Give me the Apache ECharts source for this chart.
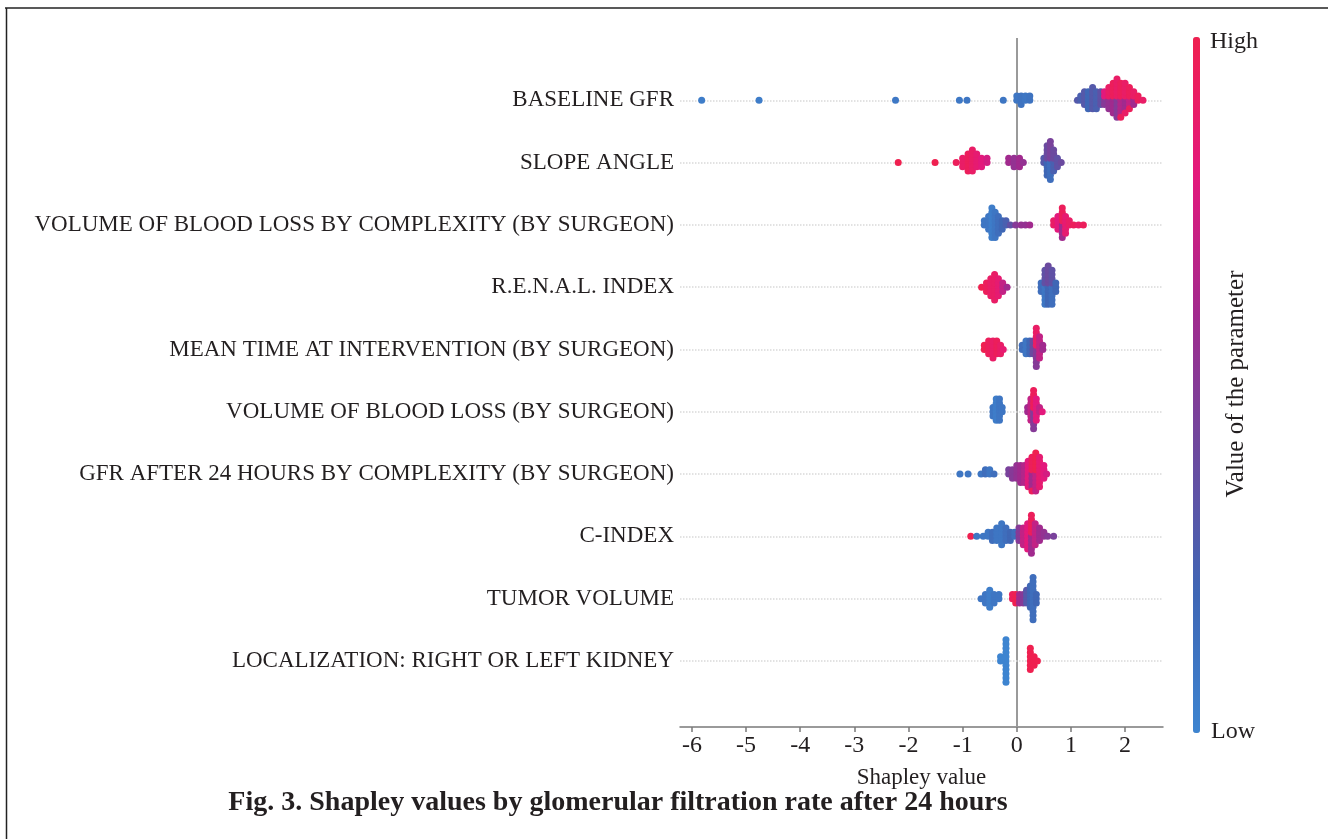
<!DOCTYPE html>
<html><head><meta charset="utf-8">
<script src="https://cdn.jsdelivr.net/npm/echarts@6/dist/echarts.min.js"></script>
<style>html,body{margin:0;padding:0;background:#fff}#c{width:1328px;height:839px}</style>
</head><body><div id="c"></div>
<script>
// Feature names (top to bottom)
const features = [
  'BASELINE GFR',
  'SLOPE ANGLE',
  'VOLUME OF BLOOD LOSS BY COMPLEXITY (BY SURGEON)',
  'R.E.N.A.L. INDEX',
  'MEAN TIME AT INTERVENTION (BY SURGEON)',
  'VOLUME OF BLOOD LOSS (BY SURGEON)',
  'GFR AFTER 24 HOURS BY COMPLEXITY (BY SURGEON)',
  'C-INDEX',
  'TUMOR VOLUME',
  'LOCALIZATION: RIGHT OR LEFT KIDNEY'
];
const xTicks = [-6, -5, -4, -3, -2, -1, 0, 1, 2];

// Each entry: [Shapley value, feature value (0 = low, 1 = high), number of points]
const baselineGfr = [
  [-5.82,0.05,1],[-4.76,0.05,1],[-2.24,0.08,1],[-1.06,0.08,1],[-0.92,0.1,1],[-0.25,0.1,1],
  [0.0,0.1,2],[0.08,0.12,3],[0.16,0.1,2],[0.24,0.12,2],
  [1.12,0.3,1],[1.18,0.25,2],[1.25,0.3,4],[1.32,0.2,5],[1.4,0.3,6],[1.47,0.25,5],[1.55,0.35,4],
  [1.62,0.5,2],[1.62,0.8,2],[1.7,0.55,3],[1.7,0.9,3],[1.78,0.6,4],[1.78,0.95,4],
  [1.85,0.5,5],[1.85,0.9,5],[1.92,0.65,4],[1.92,0.95,5],[2.0,0.6,3],[2.0,0.9,5],
  [2.08,0.7,2],[2.08,0.95,4],[2.16,0.6,2],[2.16,0.9,2],[2.24,0.95,2],[2.33,0.9,1]
];
const slopeAngle = [
  [-2.19,1,1],[-1.51,1,1],[-1.12,0.95,1],[-1.0,0.9,3],[-0.9,0.95,5],[-0.82,0.9,6],
  [-0.74,0.85,4],[-0.65,0.8,3],[-0.55,0.75,2],
  [-0.15,0.6,2],[-0.05,0.55,3],[0.05,0.6,3],[0.12,0.55,1],
  [0.5,0.3,2],[0.56,0.2,4],[0.56,0.4,4],[0.62,0.15,5],[0.62,0.45,5],[0.68,0.25,3],[0.68,0.4,3],
  [0.75,0.35,3],[0.82,0.4,1]
];
const bloodLossComplexity = [
  [-0.6,0.1,2],[-0.52,0.1,4],[-0.46,0.05,8],[-0.4,0.1,7],[-0.34,0.15,5],[-0.27,0.2,3],
  [-0.2,0.25,2],[-0.12,0.35,1],[-0.02,0.5,1],[0.08,0.55,1],[0.16,0.55,1],[0.24,0.6,1],
  [0.68,0.9,2],[0.76,0.8,4],[0.84,0.6,4],[0.84,0.95,4],[0.9,0.85,5],[0.97,0.9,2],
  [1.05,0.95,1],[1.14,0.9,1],[1.23,0.95,1]
];
const renalIndex = [
  [-0.65,1,1],[-0.56,0.95,3],[-0.48,0.9,5],[-0.41,0.9,7],[-0.34,0.85,5],[-0.26,0.7,3],[-0.18,0.6,1],
  [0.45,0.15,3],[0.52,0.1,5],[0.52,0.35,4],[0.58,0.2,5],[0.58,0.4,5],[0.65,0.15,5],[0.65,0.35,4],[0.72,0.2,3]
];
const meanTime = [
  [-0.6,1,2],[-0.52,0.95,4],[-0.44,0.9,5],[-0.37,0.95,4],[-0.3,0.9,3],[-0.25,0.85,1],
  [0.1,0.15,2],[0.17,0.1,4],[0.24,0.2,4],[0.3,0.4,4],[0.36,0.5,5],[0.36,0.9,5],[0.42,0.7,6],[0.48,0.6,2]
];
const bloodLoss = [
  [-0.44,0.1,3],[-0.38,0.05,6],[-0.32,0.1,6],[-0.27,0.1,2],
  [0.2,0.6,2],[0.26,0.7,6],[0.31,0.5,5],[0.31,0.95,5],[0.36,0.8,6],[0.42,0.7,2],[0.47,0.8,1]
];
const gfrAfter24 = [
  [-1.05,0.1,1],[-0.9,0.1,1],[-0.66,0.1,1],[-0.58,0.15,2],[-0.5,0.1,2],[-0.42,0.15,1],
  [-0.15,0.45,2],[-0.08,0.5,3],[0.0,0.55,4],[0.07,0.6,5],[0.14,0.65,5],[0.21,0.8,7],
  [0.28,0.6,4],[0.28,0.95,5],[0.35,0.7,5],[0.35,1,5],[0.42,0.85,8],[0.5,0.8,4],[0.55,0.75,1]
];
const cIndex = [
  [-0.85,1,1],[-0.74,0.1,1],[-0.62,0.1,1],[-0.53,0.1,2],[-0.45,0.15,3],[-0.37,0.1,4],
  [-0.28,0.1,6],[-0.2,0.15,4],[-0.12,0.2,3],[-0.04,0.15,2],
  [0.04,0.5,4],[0.12,0.7,5],[0.2,0.8,7],[0.27,0.6,5],[0.27,0.95,5],[0.34,0.7,6],
  [0.42,0.6,4],[0.5,0.55,2],[0.57,0.5,1],[0.68,0.45,1]
];
const tumorVolume = [
  [-0.66,0.1,1],[-0.58,0.1,3],[-0.5,0.05,5],[-0.42,0.1,3],[-0.33,0.1,2],
  [-0.08,0.95,2],[-0.02,1,3],[0.05,0.6,3],[0.12,0.5,3],[0.18,0.3,4],[0.25,0.2,6],[0.3,0.15,11],[0.36,0.2,3]
];
const localization = [
  [-0.3,0.0,2],[-0.2,0.0,11],[0.25,1,6],[0.32,1,3],[0.38,1,1]
];
const rows = [baselineGfr, slopeAngle, bloodLossComplexity, renalIndex, meanTime,
              bloodLoss, gfrAfter24, cIndex, tumorVolume, localization];

// Beeswarm layout: stack points sharing an x position around the row centre
const DY = 0.068;
const points = [];
rows.forEach((row, r) => {
  const groups = new Map();
  row.forEach(([x, v, n]) => {
    const k = x.toFixed(3);
    if (!groups.has(k)) groups.set(k, []);
    groups.get(k).push([v, n]);
  });
  groups.forEach((list, k) => {
    const x = +k;
    const rem = list.map(e => e[1]);
    const seq = [];
    while (rem.some(c => c > 0)) {
      list.forEach((e, i) => { if (rem[i] > 0) { seq.push(e[0]); rem[i]--; } });
    }
    seq.forEach((v, i) => {
      const lvl = Math.ceil(i / 2);
      const sgn = i % 2 === 1 ? -1 : 1;
      points.push([x, r + sgn * lvl * DY, v]);
    });
  });
});

const SERIF = '"Liberation Serif", "DejaVu Serif", serif';
const TXT = '#231f20';

const chart = echarts.init(document.getElementById('c'), null, {renderer: 'canvas'});
chart.setOption({
  backgroundColor: '#fff',
  animation: false,
  grid: {left: 680, right: 165, top: 38, bottom: 112, containLabel: false},
  xAxis: {
    type: 'value', min: -6.22, max: 2.7,
    splitLine: {show: false},
    axisLine: {show: true, onZero: false, lineStyle: {color: '#7a7a7a', width: 1.5}},
    axisTick: {show: true, length: 5, customValues: xTicks, lineStyle: {color: '#7a7a7a', width: 1.5}},
    axisLabel: {customValues: xTicks, fontFamily: SERIF, fontSize: 24, color: TXT, margin: 7},
    name: 'Shapley value', nameLocation: 'middle', nameGap: 39,
    nameTextStyle: {fontFamily: SERIF, fontSize: 23, color: TXT}
  },
  yAxis: {
    type: 'value', min: -1, max: 10.06, inverse: true,
    splitLine: {show: false},
    axisLine: {show: false, onZero: false},
    axisTick: {show: false},
    axisLabel: {
      customValues: features.map((f, i) => i),
      formatter: v => features[Math.round(v)] || '',
      fontFamily: SERIF, fontSize: 23, color: TXT, margin: 6,
      lineHeight: 30, padding: [10, 0, 0, 0]
    }
  },
  visualMap: {
    type: 'continuous', min: 0, max: 1, dimension: 2, seriesIndex: 0,
    orient: 'vertical', left: 1193, top: 37, itemWidth: 7, itemHeight: 696,
    padding: 0, calculable: false, text: null, showLabel: false,
    inRange: {color: ['#3d84d0', '#3f67b5', '#6b4a9f', '#a12a8e', '#e3197c', '#ef2050']}
  },
  series: [
    {
      type: 'scatter', z: 3, data: points, symbolSize: 7,
      itemStyle: {opacity: 1}
    },
    {
      type: 'scatter', z: 1, data: [], silent: true,
      markLine: {
        z: 1, silent: true, symbol: ['none', 'none'], label: {show: false},
        animation: false,
        data: [
          {xAxis: 0, lineStyle: {color: '#9a9a9a', width: 2, type: 'solid'}}
        ].concat(features.map((f, i) => ({yAxis: i, lineStyle: {color: '#d9d9d9', width: 1.5, type: 'dotted'}})))
      }
    }
  ],
  graphic: [
    {type: 'line', shape: {x1: 5, y1: 8, x2: 1328, y2: 8}, style: {stroke: '#222', lineWidth: 1.5}},
    {type: 'line', shape: {x1: 6.5, y1: 8, x2: 6.5, y2: 839}, style: {stroke: '#222', lineWidth: 1.5}},
    {type: 'text', x: 1210, y: 42, style: {text: 'High', font: '24px ' + SERIF, fill: TXT, verticalAlign: 'middle', align: 'left'}},
    {type: 'text', x: 1211, y: 732, style: {text: 'Low', font: '24px ' + SERIF, fill: TXT, verticalAlign: 'middle', align: 'left'}},
    {type: 'text', x: 1236, y: 384, rotation: Math.PI / 2, style: {text: 'Value of the parameter', font: '25px ' + SERIF, fill: TXT, verticalAlign: 'middle', align: 'center'}},
    {type: 'text', x: 618, y: 803, style: {text: 'Fig. 3. Shapley values by glomerular filtration rate after 24 hours', font: 'bold 28px ' + SERIF, fill: TXT, verticalAlign: 'middle', align: 'center'}}
  ]
});
</script>
</body></html>
